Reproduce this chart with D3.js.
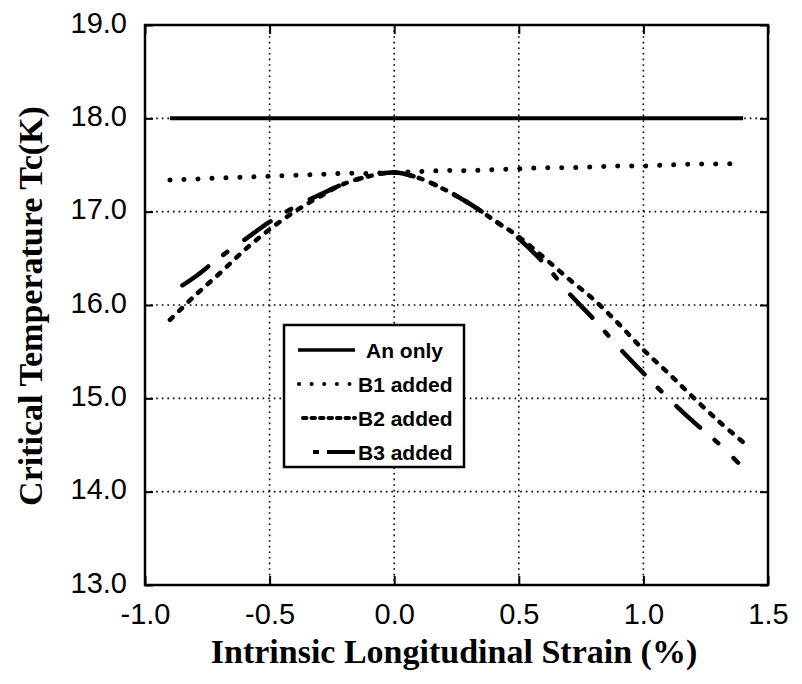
<!DOCTYPE html>
<html><head><meta charset="utf-8">
<script src="https://cdn.jsdelivr.net/npm/d3@7"></script>
<style>body{margin:0;background:#fff}svg{display:block}</style>
</head><body><svg id="c" width="802" height="684"></svg>
<script>
// ---- data ----
const strainX = [-0.9,-0.8,-0.7,-0.6,-0.5,-0.4,-0.3,-0.2,-0.1,0.0,0.1,0.2,0.3,0.4,0.5,0.6,0.7,0.8,0.9,1.0,1.1,1.2,1.3,1.4];
const anOnly  = [18,18,18,18,18,18,18,18,18,18,18,18,18,18,18,18,18,18,18,18,18,18,18,18];
const b1Added = [17.34,17.35,17.36,17.37,17.38,17.39,17.40,17.41,17.41,17.42,17.43,17.44,17.44,17.45,17.46,17.47,17.47,17.48,17.49,17.49,17.50,17.51,17.51,17.52];
const b2Added = [15.84,16.10,16.34,16.59,16.81,17.00,17.16,17.30,17.38,17.42,17.36,17.24,17.09,16.91,16.73,16.51,16.28,16.06,15.80,15.52,15.27,15.01,14.76,14.53];
const b3X     = [-0.85,-0.8,-0.7,-0.6,-0.5,-0.4,-0.3,-0.2,-0.1,0.0,0.1,0.2,0.3,0.4,0.5,0.6,0.7,0.8,0.9,1.0,1.1,1.2,1.3,1.38];
const b3Added = [16.21,16.30,16.51,16.70,16.89,17.05,17.18,17.30,17.38,17.42,17.36,17.24,17.09,16.91,16.71,16.45,16.13,15.85,15.55,15.27,15.00,14.75,14.52,14.31];
const xTicks = [-1.0,-0.5,0.0,0.5,1.0,1.5];
const yTicks = [13,14,15,16,17,18,19];
const seriesNames = ["An only","B1 added","B2 added","B3 added"];

// ---- layout ----
const L=145,R=768,T=25,B=585;
const svg=d3.select("#c");
const x=d3.scaleLinear().domain([-1,1.5]).range([L,R]);
const y=d3.scaleLinear().domain([13,19]).range([B,T]);

// gridlines
const grid=svg.append("g").attr("stroke","#000").attr("stroke-width",1.6).attr("stroke-dasharray","1.6 4");
grid.selectAll(".gx").data(xTicks.slice(1,-1)).join("line")
  .attr("x1",d=>x(d)).attr("x2",d=>x(d)).attr("y1",T).attr("y2",B);
grid.selectAll(".gy").data(yTicks.slice(1,-1)).join("line")
  .attr("x1",L).attr("x2",R).attr("y1",d=>y(d)).attr("y2",d=>y(d));

// axes (ticks inside)
const font="'Liberation Sans', Arial, sans-serif";
const ax=svg.append("g").attr("transform",`translate(0,${B})`)
  .call(d3.axisBottom(x).tickValues(xTicks).tickSize(-9).tickPadding(18).tickFormat(d3.format(".1f")));
const ay=svg.append("g").attr("transform",`translate(${L},0)`)
  .call(d3.axisLeft(y).tickValues(yTicks).tickSize(-8).tickPadding(18).tickFormat(d3.format(".1f")));
svg.append("g").attr("transform",`translate(${R},0)`)
  .call(d3.axisRight(y).tickValues(yTicks).tickSize(-8).tickFormat(""));
svg.append("g").attr("transform",`translate(0,${T})`)
  .call(d3.axisTop(x).tickValues(xTicks).tickSize(-9).tickFormat(""));
svg.selectAll(".domain").remove();
svg.selectAll(".tick line").attr("stroke","#000").attr("stroke-width",2);
ax.selectAll("text").attr("font-family",font).attr("font-size",29).attr("fill","#000")
  .text(d=>d3.format(".1f")(d).replace("−","-"));
ay.selectAll("text").attr("font-family",font).attr("font-size",29).attr("fill","#000").attr("dy","0.25em")
  .text(d=>d3.format(".1f")(d).replace("−","-"));

// frame
svg.append("rect").attr("x",L).attr("y",T).attr("width",R-L).attr("height",B-T)
  .attr("fill","none").attr("stroke","#000").attr("stroke-width",2.5);

// curves
const series=[
  {name:seriesNames[0],xs:strainX,ys:anOnly,dash:null,w:4},
  {name:seriesNames[1],xs:strainX,ys:b1Added,dash:"0.1 13.9",w:5},
  {name:seriesNames[2],xs:strainX,ys:b2Added,dash:"4 9",w:4.5},
  {name:seriesNames[3],xs:b3X,ys:b3Added,dash:"32 19 5 21",w:4.5}
];
const line=d3.line().x(d=>x(d[0])).y(d=>y(d[1])).curve(d3.curveCatmullRom);
svg.append("g").selectAll("path").data(series).join("path")
  .attr("d",s=>line(s.xs.map((v,i)=>[v,s.ys[i]])))
  .attr("fill","none").attr("stroke","#000")
  .attr("stroke-width",s=>s.w).attr("stroke-linecap",s=>s.dash?"round":"butt")
  .attr("stroke-dasharray",s=>s.dash);

// legend
const lg=svg.append("g");
lg.append("rect").attr("x",284).attr("y",325).attr("width",180).attr("height",142)
  .attr("fill","#fff").attr("stroke","#000").attr("stroke-width",2.5);
const legDash=[null,"0.1 12.5","3.5 5","6 8 28 0"];
const legX1=[298,299,303,313];
const rowY=[350,384,418,452];
series.forEach((s,i)=>{
  lg.append("line").attr("x1",legX1[i]).attr("x2",i===1?350:355).attr("y1",rowY[i]).attr("y2",rowY[i])
    .attr("stroke","#000").attr("stroke-width",i===0?3.5:4)
    .attr("stroke-linecap",i===0?"butt":(i===3?"butt":"round"))
    .attr("stroke-dasharray",legDash[i]);
  lg.append("text").attr("x",i===0?366:358).attr("y",rowY[i]).attr("dy","0.36em")
    .attr("font-family",font).attr("font-weight","bold").attr("font-size",21).text(s.name);
});

// axis titles
const serif="'Liberation Serif','Times New Roman',serif";
svg.append("text").attr("x",454).attr("y",663).attr("text-anchor","middle")
  .attr("font-family",serif).attr("font-weight","bold").attr("font-size",34)
  .text("Intrinsic Longitudinal Strain (%)");
svg.append("text").attr("transform","translate(42,306) rotate(-90)").attr("text-anchor","middle")
  .attr("font-family",serif).attr("font-weight","bold").attr("font-size",34)
  .text("Critical Temperature Tc(K)");
</script></body></html>
